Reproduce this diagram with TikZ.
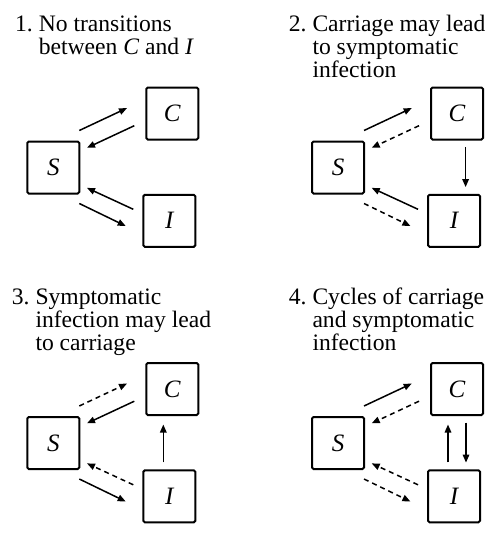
\documentclass[tikz,border=0pt]{standalone}
\usepackage{fontspec}
\setmainfont{Liberation Serif}
\usetikzlibrary{arrows.meta}
\tikzset{
  box/.style={draw, line width=2pt, rounded corners=1.5pt, minimum width=52pt, minimum height=52pt, inner sep=0pt, font=\fontsize{25}{25}\selectfont\itshape},
  title/.style={align=left, anchor=base west, inner sep=0pt, font=\fontsize{23.6}{23}\selectfont},
  arr/.style={line width=1.5pt, -{Triangle[length=8pt,width=6.5pt]}},
  dsh/.style={arr, dash pattern=on 5pt off 4pt},
}
\begin{document}
\begin{tikzpicture}[x=1pt,y=-1pt]
\useasboundingbox (0,0) rectangle (494,535);
% ---------- Panel 1 (anchor = baseline of last line)
\node[title] (t1) at (15,54.5) {1.\ No transitions\\\hphantom{1.\ }between \textit{C} and \textit{I}};
\node[box] (S1) at (53.3,167.5) {S};
\node[box] (C1) at (172.3,113.5) {C};
\node[box] (I1) at (169.3,220.8) {I};
\draw[arr] ([xshift=-1pt,yshift=10pt]S1.north east) -- ([xshift=-18.3pt,yshift=5.4pt]C1.west);
\draw[arr] ([xshift=-11pt,yshift=-12.2pt]C1.west) -- ([xshift=6.7pt,yshift=-7.3pt]S1.north east);
\draw[arr] ([xshift=-9pt,yshift=11.5pt]I1.west) -- ([xshift=6.7pt,yshift=6.6pt]S1.south east);
\draw[arr] ([xshift=-1pt,yshift=-9pt]S1.south east) -- ([xshift=-16.6pt,yshift=-5.2pt]I1.west);
% ---------- Panel 2
\node[title] (t2) at (288.7,77.9) {2.\ Carriage may lead\\\hphantom{2.\ }to symptomatic\\\hphantom{2.\ }infection};
\node[box] (S2) at (338,167.5) {S};
\node[box] (C2) at (457,113.5) {C};
\node[box] (I2) at (454,220.8) {I};
\draw[arr] ([xshift=-1pt,yshift=10pt]S2.north east) -- ([xshift=-18.3pt,yshift=5.4pt]C2.west);
\draw[dsh] ([xshift=-11pt,yshift=-12.2pt]C2.west) -- ([xshift=6.7pt,yshift=-7.3pt]S2.north east);
\draw[arr] ([xshift=-9pt,yshift=11.5pt]I2.west) -- ([xshift=6.7pt,yshift=6.6pt]S2.south east);
\draw[dsh] ([xshift=-1pt,yshift=-9pt]S2.south east) -- ([xshift=-16.6pt,yshift=-5.2pt]I2.west);
\coordinate (v2) at ([xshift=8.6pt]C2.south);
\draw[arr, shorten <=6.4pt, shorten >=6.7pt] (v2) -- (v2 |- I2.north);
% ---------- Panel 3
\node[title] (t3) at (11.7,350.3) {3.\ Symptomatic\\\hphantom{3.\ }infection may lead\\\hphantom{3.\ }to carriage};
\node[box] (S3) at (53.3,443) {S};
\node[box] (C3) at (172.3,389) {C};
\node[box] (I3) at (169.3,496.3) {I};
\draw[dsh] ([xshift=-1pt,yshift=10pt]S3.north east) -- ([xshift=-18.3pt,yshift=5.4pt]C3.west);
\draw[arr] ([xshift=-11pt,yshift=-12.2pt]C3.west) -- ([xshift=6.7pt,yshift=-7.3pt]S3.north east);
\draw[dsh] ([xshift=-9pt,yshift=11.5pt]I3.west) -- ([xshift=6.7pt,yshift=6.6pt]S3.south east);
\draw[arr] ([xshift=-1pt,yshift=-9pt]S3.south east) -- ([xshift=-16.6pt,yshift=-5.2pt]I3.west);
\coordinate (v3) at ([xshift=-9pt]C3.south);
\draw[arr, shorten <=7pt, shorten >=8.5pt] (v3 |- I3.north) -- (v3);
% ---------- Panel 4
\node[title] (t4) at (288.7,350.3) {4.\ Cycles of carriage\\\hphantom{4.\ }and symptomatic\\\hphantom{4.\ }infection};
\node[box] (S4) at (338,443) {S};
\node[box] (C4) at (457,389) {C};
\node[box] (I4) at (454,496.3) {I};
\draw[arr] ([xshift=-1pt,yshift=10pt]S4.north east) -- ([xshift=-18.3pt,yshift=5.4pt]C4.west);
\draw[dsh] ([xshift=-11pt,yshift=-12.2pt]C4.west) -- ([xshift=6.7pt,yshift=-7.3pt]S4.north east);
\draw[dsh] ([xshift=-9pt,yshift=11.5pt]I4.west) -- ([xshift=6.7pt,yshift=6.6pt]S4.south east);
\draw[dsh] ([xshift=-1pt,yshift=-9pt]S4.south east) -- ([xshift=-16.6pt,yshift=-5.2pt]I4.west);
\coordinate (v4a) at ([xshift=-9pt]C4.south);
\coordinate (v4b) at ([xshift=9pt]C4.south);
\draw[arr, shorten <=7pt, shorten >=8.5pt] (v4a |- I4.north) -- (v4a);
\draw[arr, shorten <=6.5pt, shorten >=6.7pt] (v4b) -- (v4b |- I4.north);
\end{tikzpicture}
\end{document}
